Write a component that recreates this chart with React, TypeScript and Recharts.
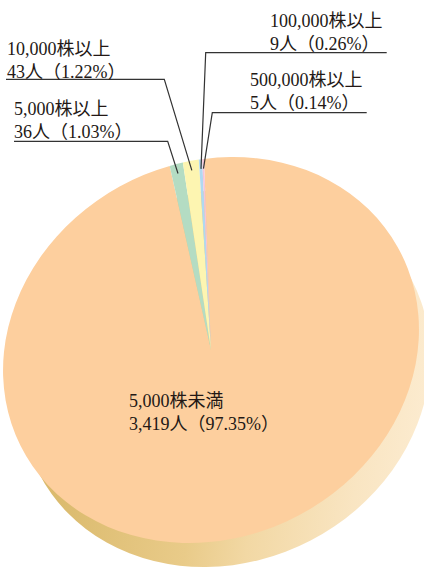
import React from 'react';
import { PieChart, Pie, Cell } from 'recharts';

// ---- data ----
const categories = ['5,000株未満', '5,000株以上', '10,000株以上', '100,000株以上', '500,000株以上'];
const holders = [3419, 36, 43, 9, 5];
const percents = ['97.35', '1.03', '1.22', '0.26', '0.14'];
const sliceColors = ['#fdcf9e', '#b4dcc3', '#fdf5b1', '#b0d9f1', '#f5c4d8'];

const data = categories.map((name, i) => ({ name, value: holders[i] }));

// ---- layout ----
const W = 424;
const H = 571;
const CX = 211;
const CY = 350;
const R = 200;
const START = 98;
const SX = 1.034;
const SK = -0.11;
const SY = 0.965;
const SIDE_SCALE = 0.985;
const SIDE_DX = 14;
const SIDE_DY = 27;
const FONT = "'Liberation Serif', 'Noto Sans CJK JP', serif";
const FS = 18;
const LINE_GAP = 22.5;
const TEXT_COLOR = '#231815';
const LEADER_R = 190;

const labelLayout: Record<number, { x: number; y: number; lineY?: number; farX?: number; elbowX?: number }> = {
  0: { x: 129, y: 407 },
  1: { x: 14, y: 115, lineY: 141.3, farX: 14, elbowX: 167.7 },
  2: { x: 7, y: 55, lineY: 79.3, farX: 6, elbowX: 164.3 },
  3: { x: 270, y: 27, lineY: 52.7, farX: 386.7, elbowX: 205.7 },
  4: { x: 250, y: 86, lineY: 112.7, farX: 366.7, elbowX: 212.3 },
};

const RAD = Math.PI / 180;

function project(cx: number, cy: number, r: number, angle: number) {
  const dx = r * Math.cos(angle * RAD);
  const dy = -r * Math.sin(angle * RAD);
  return { x: cx + SX * dx + SK * dy, y: cy + SY * dy };
}

const renderLabel = (props: any) => {
  const { index, midAngle, cx, cy } = props;
  const lay = labelLayout[index];
  if (!lay) return null;
  const line1 = categories[index];
  const line2 = `${holders[index].toLocaleString('en-US')}人（${percents[index]}%）`;
  let leader = null;
  if (lay.lineY !== undefined) {
    const end = project(cx, cy, LEADER_R, midAngle);
    leader = (
      <polyline
        points={`${lay.farX},${lay.lineY} ${lay.elbowX},${lay.lineY} ${end.x},${end.y}`}
        fill="none"
        stroke="#333"
        strokeWidth={1.2}
      />
    );
  }
  return (
    <g key={`lbl-${index}`}>
      {leader}
      <text x={lay.x} y={lay.y} fontSize={FS} fontFamily={FONT} fill={TEXT_COLOR}>
        {line1}
      </text>
      <text x={lay.x} y={lay.y + LINE_GAP} fontSize={FS} fontFamily={FONT} fill={TEXT_COLOR}>
        {line2}
      </text>
    </g>
  );
};

const css = `
.pie-side { transform-origin: ${CX}px ${CY}px; transform: matrix(${SX * SIDE_SCALE}, 0, ${SK * SIDE_SCALE}, ${SY * SIDE_SCALE}, ${SIDE_DX}, ${SIDE_DY}); }
.pie-face { transform-origin: ${CX}px ${CY}px; transform: matrix(${SX}, 0, ${SK}, ${SY}, 0, 0); }
.pie-side .pie-side, .pie-face .pie-face { transform: none; }
`;

export default function App() {
  return (
    <div style={{ position: 'absolute', left: 0, top: 0, width: W, height: H, background: '#fff' }}>
      <style>{css}</style>
      <PieChart width={W} height={H} margin={{ top: 0, right: 0, bottom: 0, left: 0 }}>
        <defs>
          <linearGradient id="sideGrad" x1="0" y1="0" x2="1" y2="0">
            <stop offset="0" stopColor="#d8b767" />
            <stop offset="0.15" stopColor="#dcbc70" />
            <stop offset="0.45" stopColor="#e9cb89" />
            <stop offset="0.6" stopColor="#f2d8a4" />
            <stop offset="0.85" stopColor="#f9e5c2" />
            <stop offset="1" stopColor="#fcebcf" />
          </linearGradient>
        </defs>
        <Pie
          className="pie-side"
          data={[{ name: 'side', value: 1 }]}
          dataKey="value"
          cx={CX}
          cy={CY}
          outerRadius={R}
          startAngle={START}
          endAngle={START - 360}
          stroke="none"
          fill="url(#sideGrad)"
          isAnimationActive={false}
          label={false}
          labelLine={false}
        />
        <Pie
          className="pie-face"
          data={data}
          dataKey="value"
          cx={CX}
          cy={CY}
          outerRadius={R}
          startAngle={START}
          endAngle={START - 360}
          stroke="none"
          isAnimationActive={false}
          label={false}
          labelLine={false}
        >
          {data.map((d, i) => (
            <Cell key={d.name} fill={sliceColors[i]} />
          ))}
        </Pie>
        <Pie
          data={data}
          dataKey="value"
          cx={CX}
          cy={CY}
          outerRadius={R}
          startAngle={START}
          endAngle={START - 360}
          stroke="none"
          fill="none"
          isAnimationActive={false}
          label={renderLabel}
          labelLine={false}
        >
          {data.map((d) => (
            <Cell key={d.name} fill="none" />
          ))}
        </Pie>
      </PieChart>
    </div>
  );
}
